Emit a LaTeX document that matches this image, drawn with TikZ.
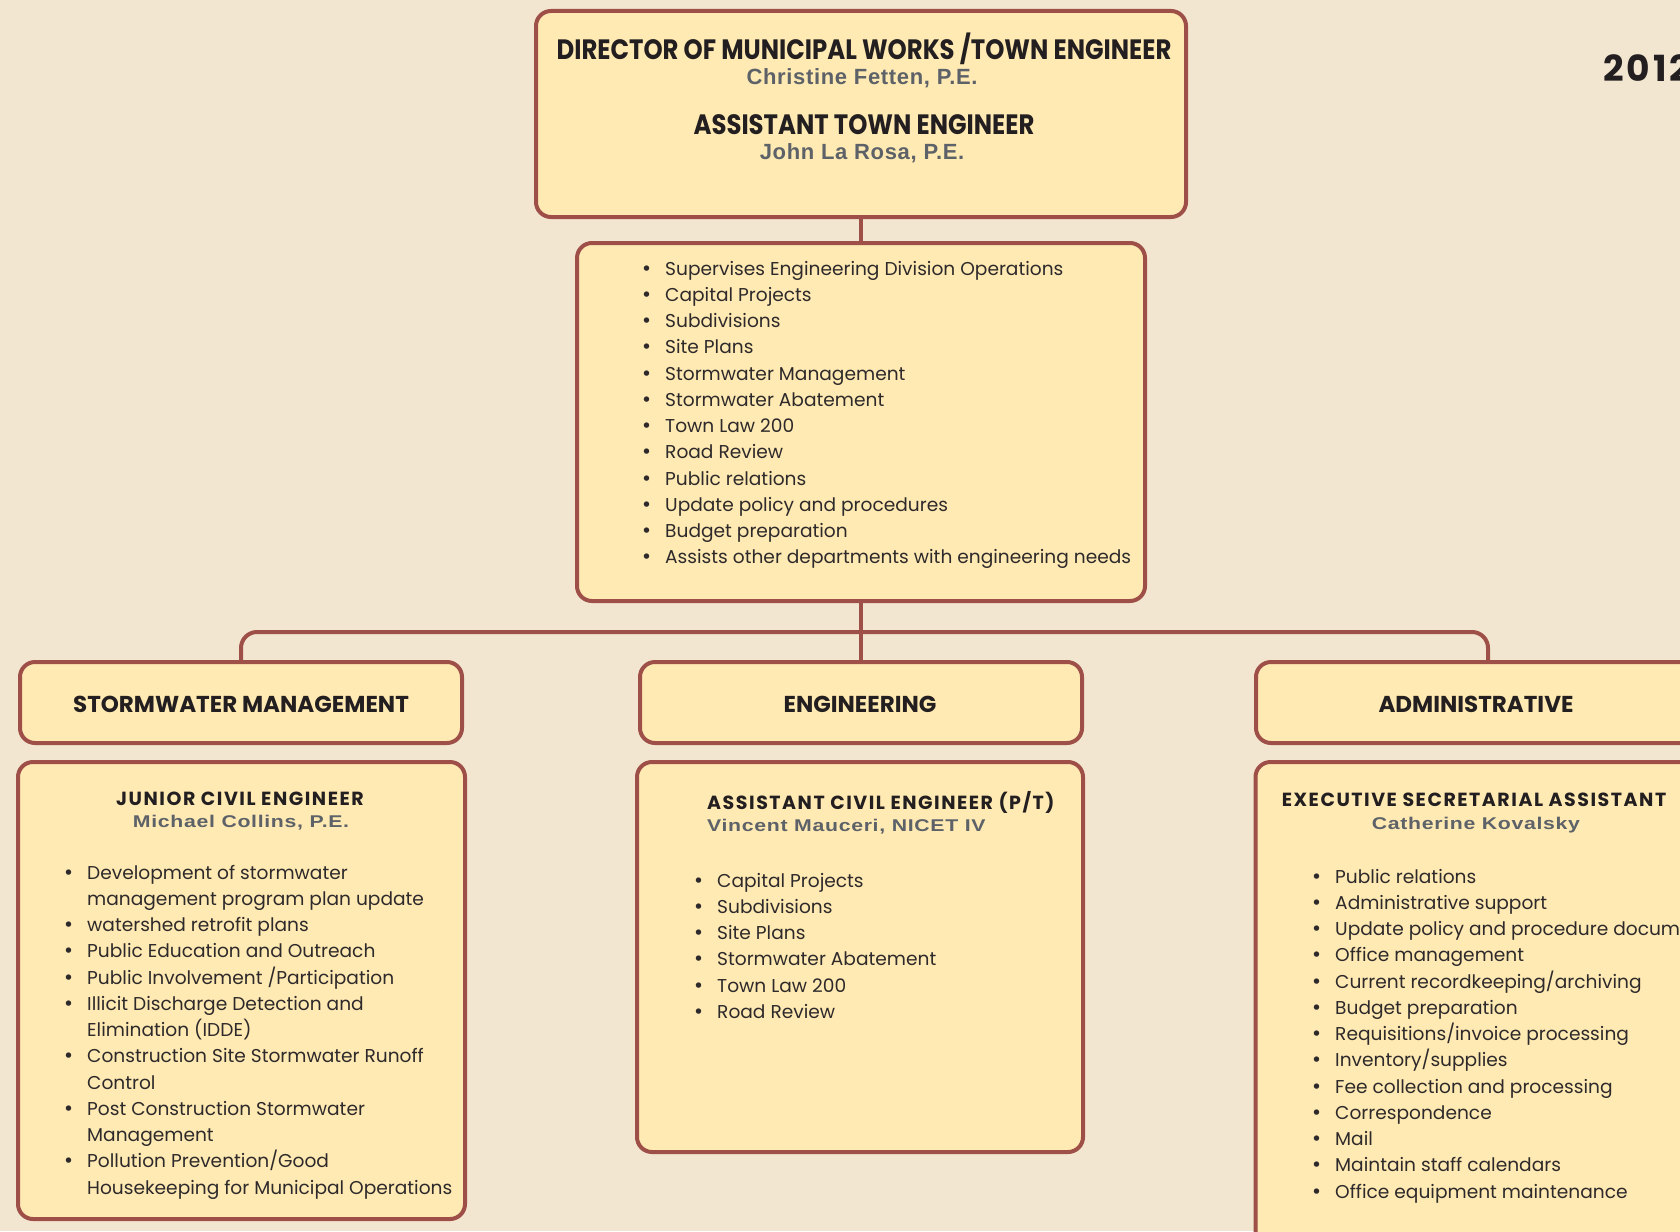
\documentclass[tikz,border=0pt]{standalone}
\usepackage{fontspec}
\setmainfont{Poppins}
\newfontfamily\listfont{Poppins}
\newfontfamily\condfont{Poppins}[FakeStretch=0.87]
\newfontfamily\widefont{Poppins}[LetterSpace=8]
\newfontfamily\namefont{Liberation Sans}[FakeStretch=1.25,LetterSpace=4]
\newfontfamily\topnamefont{Liberation Sans}[LetterSpace=3]
\newfontfamily\bulfont{DejaVu Sans}

\definecolor{paper}{HTML}{F3E6D1}
\definecolor{boxfill}{HTML}{FFEAB3}
\definecolor{edge}{HTML}{9E4F47}
\definecolor{ink}{HTML}{231F20}
\definecolor{listink}{HTML}{2E2A2B}
\definecolor{namegray}{HTML}{5D6168}

\newcommand{\bul}{\makebox[24pt][l]{\bulfont\textbullet}}

\tikzset{
  box/.style={draw=edge, fill=boxfill, line width=4pt, rounded corners=15pt, inner sep=0pt},
  link/.style={draw=edge, line width=4pt},
  toptitle/.style={inner sep=0pt, text=ink, font=\condfont\bfseries\fontsize{28}{30}\selectfont},
  topname/.style={inner sep=0pt, text=namegray, font=\topnamefont\bfseries\fontsize{22}{25}\selectfont},
  dept/.style={inner sep=0pt, text=ink, font=\bfseries\fontsize{23}{26}\selectfont},
  role/.style={inner sep=0pt, text=ink, font=\widefont\bfseries\fontsize{19}{22}\selectfont},
  person/.style={inner sep=0pt, text=namegray, font=\namefont\bfseries\fontsize{17}{20}\selectfont},
  item/.style={inner sep=0pt, anchor=base west, text=listink, font=\listfont\fontsize{18.6}{22}\selectfont}
}

\begin{document}
\begin{tikzpicture}[x=1pt, y=-1pt]
  \path[use as bounding box, fill=paper] (0,0) rectangle (1680,1231);

  % boxes
  \node[box, minimum width=650, minimum height=206] (dir) at (861,114) {};
  \node[box, minimum width=568, minimum height=358] (duties) at (861,422) {};
  \node[box, minimum width=442, minimum height=81] (smw) at (241,702.5) {};
  \node[box, minimum width=442, minimum height=81] (eng) at (861,702.5) {};
  \node[box, minimum width=442, minimum height=81] (adm) at (1477,702.5) {};
  \node[box, minimum width=447, minimum height=457] (jce) at (241.5,990.5) {};
  \node[box, minimum width=446, minimum height=390] (ace) at (860,957) {};
  \node[box, minimum width=445, minimum height=496] (esa) at (1478,1010) {};

  % connectors
  \coordinate (bar) at (861,632);
  \coordinate (admtop) at ([xshift=11]adm.north);
  \draw[link] (dir.south) -- (duties.north);
  \draw[link] (duties.south) -- (eng.north);
  \draw[link, rounded corners=16pt] (smw.north) |- (bar) -| (admtop);

  \node[anchor=west, inner sep=0pt, text=ink, font=\widefont\bfseries\fontsize{36}{40}\selectfont] (year) at (1603,68.5) {2012};

  % top
  \node[toptitle] (dirtitle) at (864,49) {DIRECTOR OF MUNICIPAL WORKS /TOWN ENGINEER};
  \node[topname] (dirname) at (862,78) {Christine Fetten, P.E.};
  \node[toptitle] (asttitle) at (864,125) {ASSISTANT TOWN ENGINEER};
  \node[topname] (astname) at (862,153) {John La Rosa, P.E.};

  \node[item] (d1) at (641,275) {\bul Supervises Engineering Division Operations};
  \node[item] (d2) at (641,301.25) {\bul Capital Projects};
  \node[item] (d3) at (641,327.5) {\bul Subdivisions};
  \node[item] (d4) at (641,353.75) {\bul Site Plans};
  \node[item] (d5) at (641,380) {\bul Stormwater Management};
  \node[item] (d6) at (641,406.25) {\bul Stormwater Abatement};
  \node[item] (d7) at (641,432.5) {\bul Town Law 200};
  \node[item] (d8) at (641,458.75) {\bul Road Review};
  \node[item] (d9) at (641,485) {\bul Public relations};
  \node[item] (d10) at (641,511.25) {\bul Update policy and procedures};
  \node[item] (d11) at (641,537.5) {\bul Budget preparation};
  \node[item] (d12) at (641,563.75) {\bul Assists other departments with engineering needs};

  % departments
  \node[dept] (smwlabel) at (241,704) {STORMWATER MANAGEMENT};
  \node[dept] (englabel) at (860,704) {ENGINEERING};
  \node[dept] (admlabel) at (1476,704) {ADMINISTRATIVE};

  % stormwater
  \node[role] (jtitle) at (240,799) {JUNIOR CIVIL ENGINEER};
  \node[person] (jname) at (241,823) {Michael Collins, P.E.};
  \node[item] (j1) at (63,879) {\bul Development of stormwater};
  \node[item] (j2) at (87,905.25) {management program plan update};
  \node[item] (j3) at (63,931.5) {\bul watershed retrofit plans};
  \node[item] (j4) at (63,957.75) {\bul Public Education and Outreach};
  \node[item] (j5) at (63,984) {\bul Public Involvement /Participation};
  \node[item] (j6) at (63,1010.25) {\bul Illicit Discharge Detection and};
  \node[item] (j7) at (87,1036.5) {Elimination (IDDE)};
  \node[item] (j8) at (63,1062.75) {\bul Construction Site Stormwater Runoff};
  \node[item] (j9) at (87,1089) {Control};
  \node[item] (j10) at (63,1115.25) {\bul Post Construction Stormwater};
  \node[item] (j11) at (87,1141.5) {Management};
  \node[item] (j12) at (63,1167.75) {\bul Pollution Prevention/Good};
  \node[item] (j13) at (87,1194) {Housekeeping for Municipal Operations};

  % engineering
  \node[role, anchor=west] (atitle) at (707,802) {ASSISTANT CIVIL ENGINEER (P/T)};
  \node[person, anchor=west] (aname) at (707,827) {Vincent Mauceri, NICET IV};
  \node[item] (a1) at (693,887) {\bul Capital Projects};
  \node[item] (a2) at (693,913.25) {\bul Subdivisions};
  \node[item] (a3) at (693,939.5) {\bul Site Plans};
  \node[item] (a4) at (693,965.75) {\bul Stormwater Abatement};
  \node[item] (a5) at (693,992) {\bul Town Law 200};
  \node[item] (a6) at (693,1018.25) {\bul Road Review};

  % administrative
  \node[role] (etitle) at (1474,800) {EXECUTIVE SECRETARIAL ASSISTANT};
  \node[person] (ename) at (1476,825) {Catherine Kovalsky};
  \node[item] (e1) at (1311,883) {\bul Public relations};
  \node[item] (e2) at (1311,909.25) {\bul Administrative support};
  \node[item] (e3) at (1311,935.5) {\bul Update policy and procedure documents};
  \node[item] (e4) at (1311,961.75) {\bul Office management};
  \node[item] (e5) at (1311,988) {\bul Current recordkeeping/archiving};
  \node[item] (e6) at (1311,1014.25) {\bul Budget preparation};
  \node[item] (e7) at (1311,1040.5) {\bul Requisitions/invoice processing};
  \node[item] (e8) at (1311,1066.75) {\bul Inventory/supplies};
  \node[item] (e9) at (1311,1093) {\bul Fee collection and processing};
  \node[item] (e10) at (1311,1119.25) {\bul Correspondence};
  \node[item] (e11) at (1311,1145.5) {\bul Mail};
  \node[item] (e12) at (1311,1171.75) {\bul Maintain staff calendars};
  \node[item] (e13) at (1311,1198) {\bul Office equipment maintenance};
\end{tikzpicture}
\end{document}
